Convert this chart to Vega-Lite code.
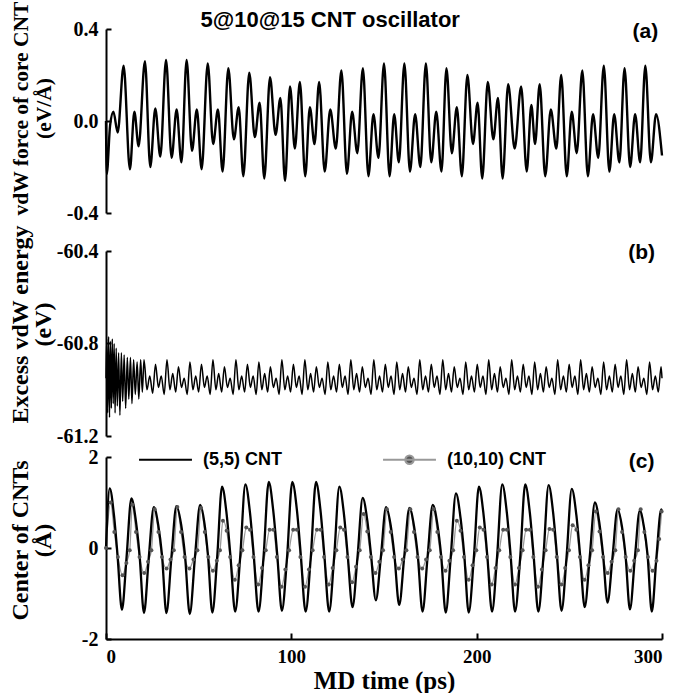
{
"$schema": "https://vega.github.io/schema/vega-lite/v6.json",
"background": "white",
"padding": {"left": 8, "top": 0, "right": 0, "bottom": 0},
"bounds": "flush",
"spacing": 38,
"config": {
  "view": {"stroke": null},
  "axis": {"grid": false, "domainColor": "#000", "domainWidth": 2, "tickColor": "#000", "tickWidth": 2, "tickSize": -5,
           "labelFont": "Liberation Serif", "labelFontWeight": "bold", "labelFontSize": 20, "labelColor": "#000", "labelPadding": 13,
           "titleFont": "Liberation Serif", "titleFontWeight": "bold", "titleFontSize": 24, "titleColor": "#000"},
  "axisY": {"titleX": -74, "titleBaseline": "bottom", "titleLineHeight": 23}
},
"datasets": {
"force": [
{"t":0,"f":0},{"t":0.4,"f":-0.23},{"t":2.2,"f":-0.02},{"t":4.0,"f":0.04},{"t":6.3,"f":-0.05},{"t":9.5,"f":0.24},{"t":12.9,"f":-0.21},{"t":15.3,"f":0.04},{"t":17.6,"f":-0.11},{"t":21.0,"f":0.26},{"t":23.9,"f":-0.20},{"t":26.6,"f":0.055},{"t":29.3,"f":-0.155},{"t":32.4,"f":0.265},{"t":35.4,"f":-0.16},{"t":38.1,"f":0.05},{"t":40.7,"f":-0.18},{"t":43.5,"f":0.265},{"t":46.4,"f":-0.13},{"t":49.0,"f":0.05},{"t":51.6,"f":-0.21},{"t":54.9,"f":0.25},{"t":57.8,"f":-0.10},{"t":60.4,"f":0.05},{"t":62.9,"f":-0.22},{"t":66.0,"f":0.23},{"t":69.0,"f":-0.08},{"t":71.6,"f":0.06},{"t":74.1,"f":-0.24},{"t":77.3,"f":0.21},{"t":80.3,"f":-0.07},{"t":82.9,"f":0.08},{"t":85.4,"f":-0.25},{"t":88.5,"f":0.19},{"t":91.5,"f":-0.06},{"t":94.1,"f":0.10},{"t":96.6,"f":-0.26},{"t":99.3,"f":0.15},{"t":101.9,"f":-0.12},{"t":104.6,"f":0.17},{"t":107.5,"f":-0.24},{"t":110.0,"f":0.06},{"t":112.5,"f":-0.10},{"t":115.0,"f":0.17},{"t":118.0,"f":-0.22},{"t":121.0,"f":0.05},{"t":124.0,"f":-0.12},{"t":127.0,"f":0.22},{"t":130.0,"f":-0.23},{"t":132.8,"f":0.04},{"t":135.6,"f":-0.14},{"t":138.6,"f":0.23},{"t":141.6,"f":-0.24},{"t":144.3,"f":0.03},{"t":147.0,"f":-0.16},{"t":150.0,"f":0.25},{"t":153.0,"f":-0.24},{"t":155.5,"f":0.03},{"t":158.0,"f":-0.18},{"t":161.0,"f":0.25},{"t":164.0,"f":-0.22},{"t":166.8,"f":0.03},{"t":169.6,"f":-0.20},{"t":172.6,"f":0.25},{"t":175.5,"f":-0.18},{"t":178.2,"f":0.04},{"t":181.0,"f":-0.22},{"t":183.7,"f":0.23},{"t":186.6,"f":-0.14},{"t":189.3,"f":0.06},{"t":192.0,"f":-0.24},{"t":195.0,"f":0.20},{"t":198.0,"f":-0.10},{"t":200.5,"f":0.08},{"t":203.0,"f":-0.25},{"t":206.0,"f":0.17},{"t":209.0,"f":-0.08},{"t":211.5,"f":0.10},{"t":214.0,"f":-0.25},{"t":217.0,"f":0.16},{"t":220.5,"f":-0.12},{"t":224.0,"f":0.15},{"t":227.0,"f":-0.22},{"t":229.5,"f":0.07},{"t":231.5,"f":-0.10},{"t":234.0,"f":0.16},{"t":237.0,"f":-0.24},{"t":240.0,"f":0.05},{"t":243.0,"f":-0.12},{"t":245.6,"f":0.20},{"t":248.6,"f":-0.24},{"t":251.3,"f":0.04},{"t":254.0,"f":-0.14},{"t":257.0,"f":0.22},{"t":260.0,"f":-0.24},{"t":262.8,"f":0.03},{"t":265.6,"f":-0.16},{"t":268.6,"f":0.24},{"t":271.6,"f":-0.22},{"t":274.2,"f":0.03},{"t":277.0,"f":-0.18},{"t":279.8,"f":0.23},{"t":282.8,"f":-0.20},{"t":285.5,"f":0.03},{"t":288.2,"f":-0.18},{"t":291.0,"f":0.24},{"t":294.0,"f":-0.18},{"t":296.8,"f":0.03},{"t":300,"f":-0.15}
],
"energy": [
{"t":0,"e":-60.95},{"t":0.4,"e":-60.78},{"t":0.9,"e":-61.1},{"t":1.4,"e":-60.77},{"t":1.9,"e":-61.12},{"t":2.4,"e":-60.79},{"t":2.9,"e":-61.08},{"t":3.4,"e":-60.78},{"t":3.9,"e":-61.06},{"t":4.4,"e":-60.8},{"t":4.9,"e":-61.1},{"t":5.5,"e":-60.82},{"t":6.1,"e":-61.07},{"t":6.8,"e":-60.84},{"t":7.5,"e":-61.11},{"t":8.3,"e":-60.84},{"t":9.0,"e":-61.05},{"t":9.8,"e":-60.85},{"t":10.6,"e":-61.08},{"t":11.5,"e":-60.86},{"t":12.3,"e":-61.04},{"t":13.2,"e":-60.86},{"t":14.0,"e":-61.06},{"t":14.9,"e":-60.87},{"t":15.8,"e":-61.02},{"t":16.8,"e":-60.88},{"t":17.7,"e":-61.04},{"t":18.7,"e":-60.87},{"t":19.6,"e":-61.01},
{"t":20.5,"e":-60.87},{"t":22.1,"e":-61.0},{"t":23.6,"e":-60.94},{"t":25.2,"e":-61.015},
{"t":26.7,"e":-60.89},{"t":28.3,"e":-60.99},{"t":29.8,"e":-60.94},{"t":31.4,"e":-61.02},
{"t":32.9,"e":-60.87},{"t":34.5,"e":-61.0},{"t":36.0,"e":-60.93},{"t":37.6,"e":-61.01},
{"t":39.1,"e":-60.9},{"t":40.7,"e":-60.99},{"t":42.2,"e":-60.95},{"t":43.8,"e":-61.02},
{"t":45.3,"e":-60.88},{"t":46.9,"e":-61.0},{"t":48.4,"e":-60.94},{"t":50.0,"e":-61.01},
{"t":51.5,"e":-60.89},{"t":53.1,"e":-60.99},{"t":54.6,"e":-60.94},{"t":56.2,"e":-61.02},
{"t":57.7,"e":-60.87},{"t":59.3,"e":-61.0},{"t":60.8,"e":-60.93},{"t":62.4,"e":-61.01},
{"t":63.9,"e":-60.9},{"t":65.5,"e":-60.99},{"t":67.0,"e":-60.95},{"t":68.6,"e":-61.02},
{"t":70.1,"e":-60.87},{"t":71.7,"e":-61.0},{"t":73.2,"e":-60.94},{"t":74.8,"e":-61.01},
{"t":76.3,"e":-60.89},{"t":77.9,"e":-60.99},{"t":79.4,"e":-60.94},{"t":81.0,"e":-61.02},
{"t":82.5,"e":-60.88},{"t":84.1,"e":-61.0},{"t":85.6,"e":-60.93},{"t":87.2,"e":-61.01},
{"t":88.7,"e":-60.9},{"t":90.3,"e":-60.99},{"t":91.8,"e":-60.95},{"t":93.4,"e":-61.02},
{"t":94.9,"e":-60.87},{"t":96.5,"e":-61.0},{"t":98.0,"e":-60.94},{"t":99.6,"e":-61.01},
{"t":101.1,"e":-60.89},{"t":102.7,"e":-60.99},{"t":104.2,"e":-60.94},{"t":105.8,"e":-61.02},
{"t":107.3,"e":-60.87},{"t":108.9,"e":-61.0},{"t":110.4,"e":-60.93},{"t":112.0,"e":-61.01},
{"t":113.5,"e":-60.9},{"t":115.1,"e":-60.99},{"t":116.6,"e":-60.95},{"t":118.2,"e":-61.02},
{"t":119.7,"e":-60.88},{"t":121.3,"e":-61.0},{"t":122.8,"e":-60.94},{"t":124.4,"e":-61.01},
{"t":125.9,"e":-60.89},{"t":127.5,"e":-60.99},{"t":129.0,"e":-60.94},{"t":130.6,"e":-61.02},
{"t":132.1,"e":-60.87},{"t":133.7,"e":-61.0},{"t":135.2,"e":-60.93},{"t":136.8,"e":-61.01},
{"t":138.3,"e":-60.9},{"t":139.9,"e":-60.99},{"t":141.4,"e":-60.95},{"t":143.0,"e":-61.02},
{"t":144.5,"e":-60.87},{"t":146.1,"e":-61.0},{"t":147.6,"e":-60.94},{"t":149.2,"e":-61.01},
{"t":150.7,"e":-60.89},{"t":152.3,"e":-60.99},{"t":153.8,"e":-60.94},{"t":155.4,"e":-61.02},
{"t":156.9,"e":-60.88},{"t":158.5,"e":-61.0},{"t":160.0,"e":-60.93},{"t":161.6,"e":-61.01},
{"t":163.1,"e":-60.9},{"t":164.7,"e":-60.99},{"t":166.2,"e":-60.95},{"t":167.8,"e":-61.02},
{"t":169.3,"e":-60.87},{"t":170.9,"e":-61.0},{"t":172.4,"e":-60.94},{"t":174.0,"e":-61.01},
{"t":175.5,"e":-60.89},{"t":177.1,"e":-60.99},{"t":178.6,"e":-60.94},{"t":180.2,"e":-61.02},
{"t":181.7,"e":-60.87},{"t":183.3,"e":-61.0},{"t":184.8,"e":-60.93},{"t":186.4,"e":-61.01},
{"t":187.9,"e":-60.9},{"t":189.5,"e":-60.99},{"t":191.0,"e":-60.95},{"t":192.6,"e":-61.02},
{"t":194.1,"e":-60.88},{"t":195.7,"e":-61.0},{"t":197.2,"e":-60.94},{"t":198.8,"e":-61.01},
{"t":200.3,"e":-60.89},{"t":201.9,"e":-60.99},{"t":203.4,"e":-60.94},{"t":205.0,"e":-61.02},
{"t":206.5,"e":-60.87},{"t":208.1,"e":-61.0},{"t":209.6,"e":-60.93},{"t":211.2,"e":-61.01},
{"t":212.7,"e":-60.9},{"t":214.3,"e":-60.99},{"t":215.8,"e":-60.95},{"t":217.4,"e":-61.02},
{"t":218.9,"e":-60.87},{"t":220.5,"e":-61.0},{"t":222.0,"e":-60.94},{"t":223.6,"e":-61.01},
{"t":225.1,"e":-60.89},{"t":226.7,"e":-60.99},{"t":228.2,"e":-60.94},{"t":229.8,"e":-61.02},
{"t":231.3,"e":-60.88},{"t":232.9,"e":-61.0},{"t":234.4,"e":-60.93},{"t":236.0,"e":-61.01},
{"t":237.5,"e":-60.9},{"t":239.1,"e":-60.99},{"t":240.6,"e":-60.95},{"t":242.2,"e":-61.02},
{"t":243.7,"e":-60.87},{"t":245.3,"e":-61.0},{"t":246.8,"e":-60.94},{"t":248.4,"e":-61.01},
{"t":249.9,"e":-60.89},{"t":251.5,"e":-60.99},{"t":253.0,"e":-60.94},{"t":254.6,"e":-61.02},
{"t":256.1,"e":-60.87},{"t":257.7,"e":-61.0},{"t":259.2,"e":-60.93},{"t":260.8,"e":-61.01},
{"t":262.3,"e":-60.9},{"t":263.9,"e":-60.99},{"t":265.4,"e":-60.95},{"t":267.0,"e":-61.02},
{"t":268.5,"e":-60.88},{"t":270.1,"e":-61.0},{"t":271.6,"e":-60.94},{"t":273.2,"e":-61.01},
{"t":274.7,"e":-60.89},{"t":276.3,"e":-60.99},{"t":277.8,"e":-60.94},{"t":279.4,"e":-61.02},
{"t":280.9,"e":-60.87},{"t":282.5,"e":-61.0},{"t":284.0,"e":-60.93},{"t":285.6,"e":-61.01},
{"t":287.1,"e":-60.9},{"t":288.7,"e":-60.99},{"t":290.2,"e":-60.95},{"t":291.8,"e":-61.02},
{"t":293.3,"e":-60.88},{"t":294.9,"e":-61.0},{"t":296.4,"e":-60.94},{"t":298.0,"e":-61.01},
{"t":299.5,"e":-60.9},{"t":300,"e":-60.95}
],
"center": [
{"s":"(5,5) CNT","t":0,"v":0.0},{"s":"(5,5) CNT","t":2.0,"v":1.31},{"s":"(5,5) CNT","t":4.3,"v":0.72},{"s":"(5,5) CNT","t":6.2,"v":-0.15},{"s":"(5,5) CNT","t":8.6,"v":-1.36},{"s":"(5,5) CNT","t":11.1,"v":-0.2},
{"s":"(5,5) CNT","t":13.7,"v":1.09},{"s":"(5,5) CNT","t":16.1,"v":0.6},{"s":"(5,5) CNT","t":18.1,"v":-0.15},{"s":"(5,5) CNT","t":20.5,"v":-1.43},{"s":"(5,5) CNT","t":23.1,"v":-0.2},
{"s":"(5,5) CNT","t":25.8,"v":0.9},{"s":"(5,5) CNT","t":28.2,"v":0.5},{"s":"(5,5) CNT","t":30.2,"v":-0.15},{"s":"(5,5) CNT","t":32.6,"v":-1.43},{"s":"(5,5) CNT","t":35.3,"v":-0.2},
{"s":"(5,5) CNT","t":38.0,"v":0.92},{"s":"(5,5) CNT","t":40.6,"v":0.5},{"s":"(5,5) CNT","t":42.6,"v":-0.15},{"s":"(5,5) CNT","t":45.2,"v":-1.45},{"s":"(5,5) CNT","t":48.0,"v":-0.2},
{"s":"(5,5) CNT","t":50.8,"v":0.95},{"s":"(5,5) CNT","t":53.2,"v":0.52},{"s":"(5,5) CNT","t":55.0,"v":-0.15},{"s":"(5,5) CNT","t":57.4,"v":-1.42},{"s":"(5,5) CNT","t":60.0,"v":-0.2},
{"s":"(5,5) CNT","t":62.6,"v":1.35},{"s":"(5,5) CNT","t":65.1,"v":0.74},{"s":"(5,5) CNT","t":67.1,"v":-0.15},{"s":"(5,5) CNT","t":69.7,"v":-1.4},{"s":"(5,5) CNT","t":72.4,"v":-0.2},
{"s":"(5,5) CNT","t":75.2,"v":1.4},{"s":"(5,5) CNT","t":77.7,"v":0.77},{"s":"(5,5) CNT","t":79.7,"v":-0.15},{"s":"(5,5) CNT","t":82.3,"v":-1.4},{"s":"(5,5) CNT","t":85.0,"v":-0.2},
{"s":"(5,5) CNT","t":87.8,"v":1.45},{"s":"(5,5) CNT","t":90.3,"v":0.8},{"s":"(5,5) CNT","t":92.4,"v":-0.15},{"s":"(5,5) CNT","t":94.9,"v":-1.38},{"s":"(5,5) CNT","t":97.7,"v":-0.2},
{"s":"(5,5) CNT","t":100.5,"v":1.45},{"s":"(5,5) CNT","t":103.1,"v":0.8},{"s":"(5,5) CNT","t":105.1,"v":-0.15},{"s":"(5,5) CNT","t":107.7,"v":-1.4},{"s":"(5,5) CNT","t":110.5,"v":-0.2},
{"s":"(5,5) CNT","t":113.3,"v":1.45},{"s":"(5,5) CNT","t":115.8,"v":0.8},{"s":"(5,5) CNT","t":117.8,"v":-0.15},{"s":"(5,5) CNT","t":120.4,"v":-1.4},{"s":"(5,5) CNT","t":123.1,"v":-0.2},
{"s":"(5,5) CNT","t":125.9,"v":1.35},{"s":"(5,5) CNT","t":128.4,"v":0.74},{"s":"(5,5) CNT","t":130.4,"v":-0.15},{"s":"(5,5) CNT","t":133.0,"v":-1.3},{"s":"(5,5) CNT","t":135.7,"v":-0.2},
{"s":"(5,5) CNT","t":138.5,"v":1.1},{"s":"(5,5) CNT","t":141.0,"v":0.6},{"s":"(5,5) CNT","t":143.0,"v":-0.15},{"s":"(5,5) CNT","t":145.6,"v":-1.15},{"s":"(5,5) CNT","t":148.3,"v":-0.2},
{"s":"(5,5) CNT","t":151.1,"v":0.9},{"s":"(5,5) CNT","t":153.6,"v":0.5},{"s":"(5,5) CNT","t":155.6,"v":-0.15},{"s":"(5,5) CNT","t":158.2,"v":-1.25},{"s":"(5,5) CNT","t":160.9,"v":-0.2},
{"s":"(5,5) CNT","t":163.7,"v":0.88},{"s":"(5,5) CNT","t":166.2,"v":0.48},{"s":"(5,5) CNT","t":168.2,"v":-0.15},{"s":"(5,5) CNT","t":170.8,"v":-1.4},{"s":"(5,5) CNT","t":173.5,"v":-0.2},
{"s":"(5,5) CNT","t":176.3,"v":0.95},{"s":"(5,5) CNT","t":178.8,"v":0.52},{"s":"(5,5) CNT","t":180.8,"v":-0.15},{"s":"(5,5) CNT","t":183.3,"v":-1.42},{"s":"(5,5) CNT","t":186.0,"v":-0.2},
{"s":"(5,5) CNT","t":188.8,"v":1.2},{"s":"(5,5) CNT","t":191.3,"v":0.66},{"s":"(5,5) CNT","t":193.3,"v":-0.15},{"s":"(5,5) CNT","t":195.7,"v":-1.42},{"s":"(5,5) CNT","t":198.5,"v":-0.2},
{"s":"(5,5) CNT","t":201.2,"v":1.35},{"s":"(5,5) CNT","t":203.7,"v":0.74},{"s":"(5,5) CNT","t":205.7,"v":-0.15},{"s":"(5,5) CNT","t":208.3,"v":-1.4},{"s":"(5,5) CNT","t":211.0,"v":-0.2},
{"s":"(5,5) CNT","t":213.8,"v":1.4},{"s":"(5,5) CNT","t":216.3,"v":0.77},{"s":"(5,5) CNT","t":218.3,"v":-0.15},{"s":"(5,5) CNT","t":220.7,"v":-1.4},{"s":"(5,5) CNT","t":223.5,"v":-0.2},
{"s":"(5,5) CNT","t":226.2,"v":1.4},{"s":"(5,5) CNT","t":228.7,"v":0.77},{"s":"(5,5) CNT","t":230.7,"v":-0.15},{"s":"(5,5) CNT","t":233.3,"v":-1.4},{"s":"(5,5) CNT","t":236.0,"v":-0.2},
{"s":"(5,5) CNT","t":238.8,"v":1.38},{"s":"(5,5) CNT","t":241.3,"v":0.76},{"s":"(5,5) CNT","t":243.3,"v":-0.15},{"s":"(5,5) CNT","t":245.8,"v":-1.38},{"s":"(5,5) CNT","t":248.5,"v":-0.2},
{"s":"(5,5) CNT","t":251.3,"v":1.3},{"s":"(5,5) CNT","t":253.8,"v":0.72},{"s":"(5,5) CNT","t":255.8,"v":-0.15},{"s":"(5,5) CNT","t":258.3,"v":-1.3},{"s":"(5,5) CNT","t":261.0,"v":-0.2},
{"s":"(5,5) CNT","t":263.8,"v":1.0},{"s":"(5,5) CNT","t":266.2,"v":0.55},{"s":"(5,5) CNT","t":268.2,"v":-0.15},{"s":"(5,5) CNT","t":270.6,"v":-1.2},{"s":"(5,5) CNT","t":273.3,"v":-0.2},
{"s":"(5,5) CNT","t":276.0,"v":0.85},{"s":"(5,5) CNT","t":278.4,"v":0.47},{"s":"(5,5) CNT","t":280.3,"v":-0.15},{"s":"(5,5) CNT","t":282.7,"v":-1.35},{"s":"(5,5) CNT","t":285.4,"v":-0.2},
{"s":"(5,5) CNT","t":288.0,"v":0.82},{"s":"(5,5) CNT","t":290.3,"v":0.45},{"s":"(5,5) CNT","t":292.2,"v":-0.15},{"s":"(5,5) CNT","t":294.5,"v":-1.4},{"s":"(5,5) CNT","t":297.0,"v":-0.2},
{"s":"(5,5) CNT","t":299.6,"v":0.85},{"s":"(5,5) CNT","t":300,"v":0.8},
{"s":"(10,10) CNT","t":0,"v":0.0},{"s":"(10,10) CNT","t":2.5,"v":1.0},{"s":"(10,10) CNT","t":4.5,"v":0.35},{"s":"(10,10) CNT","t":6.4,"v":-0.2},{"s":"(10,10) CNT","t":8.9,"v":-0.6},{"s":"(10,10) CNT","t":11.0,"v":-0.33},{"s":"(10,10) CNT","t":12.8,"v":-0.05},
{"s":"(10,10) CNT","t":14.2,"v":0.95},{"s":"(10,10) CNT","t":16.2,"v":0.35},{"s":"(10,10) CNT","t":18.1,"v":-0.2},{"s":"(10,10) CNT","t":20.6,"v":-0.55},{"s":"(10,10) CNT","t":22.7,"v":-0.3},{"s":"(10,10) CNT","t":24.5,"v":-0.05},
{"s":"(10,10) CNT","t":26.3,"v":0.85},{"s":"(10,10) CNT","t":28.3,"v":0.35},{"s":"(10,10) CNT","t":30.2,"v":-0.2},{"s":"(10,10) CNT","t":32.7,"v":-0.45},{"s":"(10,10) CNT","t":34.8,"v":-0.25},{"s":"(10,10) CNT","t":36.6,"v":-0.05},
{"s":"(10,10) CNT","t":38.5,"v":0.9},{"s":"(10,10) CNT","t":40.5,"v":0.35},{"s":"(10,10) CNT","t":42.4,"v":-0.2},{"s":"(10,10) CNT","t":45.0,"v":-0.45},{"s":"(10,10) CNT","t":47.2,"v":-0.25},{"s":"(10,10) CNT","t":49.3,"v":-0.05},
{"s":"(10,10) CNT","t":51.3,"v":0.88},{"s":"(10,10) CNT","t":53.3,"v":0.35},{"s":"(10,10) CNT","t":55.2,"v":-0.2},{"s":"(10,10) CNT","t":57.7,"v":-0.5},{"s":"(10,10) CNT","t":59.8,"v":-0.28},{"s":"(10,10) CNT","t":61.5,"v":-0.05},
{"s":"(10,10) CNT","t":63.1,"v":0.6},{"s":"(10,10) CNT","t":65.1,"v":0.38},{"s":"(10,10) CNT","t":67.0,"v":-0.2},{"s":"(10,10) CNT","t":69.5,"v":-0.7},{"s":"(10,10) CNT","t":71.6,"v":-0.38},{"s":"(10,10) CNT","t":73.6,"v":-0.05},
{"s":"(10,10) CNT","t":75.7,"v":0.45},{"s":"(10,10) CNT","t":77.7,"v":0.4},{"s":"(10,10) CNT","t":79.6,"v":-0.2},{"s":"(10,10) CNT","t":82.1,"v":-0.8},{"s":"(10,10) CNT","t":84.2,"v":-0.44},{"s":"(10,10) CNT","t":86.2,"v":-0.05},
{"s":"(10,10) CNT","t":88.3,"v":0.4},{"s":"(10,10) CNT","t":90.3,"v":0.4},{"s":"(10,10) CNT","t":92.2,"v":-0.2},{"s":"(10,10) CNT","t":94.7,"v":-0.85},{"s":"(10,10) CNT","t":96.8,"v":-0.47},{"s":"(10,10) CNT","t":98.8,"v":-0.05},
{"s":"(10,10) CNT","t":101.0,"v":0.4},{"s":"(10,10) CNT","t":103.0,"v":0.4},{"s":"(10,10) CNT","t":104.9,"v":-0.2},{"s":"(10,10) CNT","t":107.4,"v":-0.85},{"s":"(10,10) CNT","t":109.5,"v":-0.47},{"s":"(10,10) CNT","t":111.5,"v":-0.05},
{"s":"(10,10) CNT","t":113.8,"v":0.4},{"s":"(10,10) CNT","t":115.8,"v":0.4},{"s":"(10,10) CNT","t":117.7,"v":-0.2},{"s":"(10,10) CNT","t":120.2,"v":-0.8},{"s":"(10,10) CNT","t":122.3,"v":-0.44},{"s":"(10,10) CNT","t":124.3,"v":-0.05},
{"s":"(10,10) CNT","t":126.4,"v":0.45},{"s":"(10,10) CNT","t":128.4,"v":0.4},{"s":"(10,10) CNT","t":130.3,"v":-0.2},{"s":"(10,10) CNT","t":132.8,"v":-0.75},{"s":"(10,10) CNT","t":134.9,"v":-0.41},{"s":"(10,10) CNT","t":136.9,"v":-0.05},
{"s":"(10,10) CNT","t":139.0,"v":0.75},{"s":"(10,10) CNT","t":141.0,"v":0.36},{"s":"(10,10) CNT","t":142.9,"v":-0.2},{"s":"(10,10) CNT","t":145.4,"v":-0.55},{"s":"(10,10) CNT","t":147.5,"v":-0.3},{"s":"(10,10) CNT","t":149.5,"v":-0.05},
{"s":"(10,10) CNT","t":151.6,"v":0.85},{"s":"(10,10) CNT","t":153.6,"v":0.35},{"s":"(10,10) CNT","t":155.5,"v":-0.2},{"s":"(10,10) CNT","t":158.0,"v":-0.45},{"s":"(10,10) CNT","t":160.1,"v":-0.25},{"s":"(10,10) CNT","t":162.1,"v":-0.05},
{"s":"(10,10) CNT","t":164.2,"v":0.85},{"s":"(10,10) CNT","t":166.2,"v":0.35},{"s":"(10,10) CNT","t":168.1,"v":-0.2},{"s":"(10,10) CNT","t":170.6,"v":-0.45},{"s":"(10,10) CNT","t":172.7,"v":-0.25},{"s":"(10,10) CNT","t":174.7,"v":-0.05},
{"s":"(10,10) CNT","t":176.8,"v":0.85},{"s":"(10,10) CNT","t":178.8,"v":0.35},{"s":"(10,10) CNT","t":180.7,"v":-0.2},{"s":"(10,10) CNT","t":183.2,"v":-0.5},{"s":"(10,10) CNT","t":185.3,"v":-0.28},{"s":"(10,10) CNT","t":187.3,"v":-0.05},
{"s":"(10,10) CNT","t":189.3,"v":0.6},{"s":"(10,10) CNT","t":191.3,"v":0.38},{"s":"(10,10) CNT","t":193.2,"v":-0.2},{"s":"(10,10) CNT","t":195.7,"v":-0.7},{"s":"(10,10) CNT","t":197.8,"v":-0.38},{"s":"(10,10) CNT","t":199.8,"v":-0.05},
{"s":"(10,10) CNT","t":201.7,"v":0.45},{"s":"(10,10) CNT","t":203.7,"v":0.4},{"s":"(10,10) CNT","t":205.6,"v":-0.2},{"s":"(10,10) CNT","t":208.1,"v":-0.8},{"s":"(10,10) CNT","t":210.2,"v":-0.44},{"s":"(10,10) CNT","t":212.2,"v":-0.05},
{"s":"(10,10) CNT","t":214.3,"v":0.4},{"s":"(10,10) CNT","t":216.3,"v":0.4},{"s":"(10,10) CNT","t":218.2,"v":-0.2},{"s":"(10,10) CNT","t":220.7,"v":-0.8},{"s":"(10,10) CNT","t":222.8,"v":-0.44},{"s":"(10,10) CNT","t":224.8,"v":-0.05},
{"s":"(10,10) CNT","t":226.7,"v":0.4},{"s":"(10,10) CNT","t":228.7,"v":0.4},{"s":"(10,10) CNT","t":230.6,"v":-0.2},{"s":"(10,10) CNT","t":233.1,"v":-0.85},{"s":"(10,10) CNT","t":235.2,"v":-0.47},{"s":"(10,10) CNT","t":237.2,"v":-0.05},
{"s":"(10,10) CNT","t":239.3,"v":0.42},{"s":"(10,10) CNT","t":241.3,"v":0.4},{"s":"(10,10) CNT","t":243.2,"v":-0.2},{"s":"(10,10) CNT","t":245.7,"v":-0.8},{"s":"(10,10) CNT","t":247.8,"v":-0.44},{"s":"(10,10) CNT","t":249.8,"v":-0.05},
{"s":"(10,10) CNT","t":251.8,"v":0.5},{"s":"(10,10) CNT","t":253.8,"v":0.4},{"s":"(10,10) CNT","t":255.7,"v":-0.2},{"s":"(10,10) CNT","t":258.2,"v":-0.7},{"s":"(10,10) CNT","t":260.3,"v":-0.38},{"s":"(10,10) CNT","t":262.3,"v":-0.05},
{"s":"(10,10) CNT","t":264.3,"v":0.8},{"s":"(10,10) CNT","t":266.3,"v":0.36},{"s":"(10,10) CNT","t":268.2,"v":-0.2},{"s":"(10,10) CNT","t":270.7,"v":-0.55},{"s":"(10,10) CNT","t":272.8,"v":-0.3},{"s":"(10,10) CNT","t":274.8,"v":-0.05},
{"s":"(10,10) CNT","t":276.5,"v":0.85},{"s":"(10,10) CNT","t":278.5,"v":0.35},{"s":"(10,10) CNT","t":280.4,"v":-0.2},{"s":"(10,10) CNT","t":282.9,"v":-0.5},{"s":"(10,10) CNT","t":285.0,"v":-0.28},{"s":"(10,10) CNT","t":287.0,"v":-0.05},
{"s":"(10,10) CNT","t":288.5,"v":0.85},{"s":"(10,10) CNT","t":290.5,"v":0.35},{"s":"(10,10) CNT","t":292.4,"v":-0.2},{"s":"(10,10) CNT","t":294.9,"v":-0.5},{"s":"(10,10) CNT","t":297.0,"v":-0.28},{"s":"(10,10) CNT","t":298.5,"v":0.2},{"s":"(10,10) CNT","t":299.8,"v":0.8}
]
},
"vconcat": [
{
  "width": 556, "height": 184,
  "layer": [
    {"data": {"name": "force"},
     "mark": {"type": "line", "interpolate": "monotone", "color": "#000", "strokeWidth": 2.4},
     "encoding": {
       "x": {"field": "t", "type": "quantitative", "scale": {"domain": [0, 300], "nice": false, "zero": false}, "axis": null},
       "y": {"field": "f", "type": "quantitative", "scale": {"domain": [-0.4, 0.4], "nice": false, "zero": false},
             "axis": {"values": [-0.4, 0, 0.4], "title": ["vdW force of core CNT", "(eV/Å)"], "titleY": 79, "titleFontSize": 21.5,
                      "labelExpr": "datum.value < 0 ? '-' + format(-datum.value, '.1f') : format(datum.value, '.1f')"}}
     }},
    {"data": {"values": [{"t": 121, "v": 0.438, "label": "5@10@15 CNT oscillator"}]},
     "mark": {"type": "text", "font": "Liberation Sans", "fontWeight": "bold", "fontSize": 22, "color": "#000", "baseline": "middle"},
     "encoding": {"x": {"field": "t", "type": "quantitative"}, "y": {"field": "v", "type": "quantitative"}, "text": {"field": "label"}}},
    {"data": {"values": [{"t": 291, "v": 0.385, "label": "(a)"}]},
     "mark": {"type": "text", "font": "Liberation Sans", "fontWeight": "bold", "fontSize": 21, "color": "#000", "baseline": "middle"},
     "encoding": {"x": {"field": "t", "type": "quantitative"}, "y": {"field": "v", "type": "quantitative"}, "text": {"field": "label"}}}
  ]
},
{
  "bounds": "flush",
  "spacing": 21,
  "vconcat": [
    {
      "width": 556, "height": 185,
      "layer": [
        {"data": {"name": "energy"},
         "mark": {"type": "line", "interpolate": "monotone", "color": "#000", "strokeWidth": 1.5},
         "encoding": {
           "x": {"field": "t", "type": "quantitative", "scale": {"domain": [0, 300], "nice": false, "zero": false}, "axis": null},
           "y": {"field": "e", "type": "quantitative", "scale": {"domain": [-61.2, -60.4], "nice": false, "zero": false},
                 "axis": {"values": [-61.2, -60.8, -60.4], "title": ["Excess vdW energy", "(eV)"], "titleY": 73,
                          "labelExpr": "'-' + format(-datum.value, '.1f')"}}
         }},
        {"data": {"values": [{"t": 289, "v": -60.41, "label": "(b)"}]},
         "mark": {"type": "text", "font": "Liberation Sans", "fontWeight": "bold", "fontSize": 21, "color": "#000", "baseline": "middle"},
         "encoding": {"x": {"field": "t", "type": "quantitative"}, "y": {"field": "v", "type": "quantitative"}, "text": {"field": "label"}}}
      ]
    },
    {
      "width": 556, "height": 182,
      "layer": [
        {"data": {"name": "center"},
         "transform": [{"filter": "datum.s === '(10,10) CNT'"}],
         "mark": {"type": "line", "interpolate": "monotone", "strokeWidth": 1.3},
         "encoding": {
           "x": {"field": "t", "type": "quantitative", "scale": {"domain": [0, 300], "nice": false, "zero": false},
                 "axis": {"values": [0, 100, 200, 300], "title": "MD time (ps)", "titleFontSize": 25, "labelFontSize": 19, "labelPadding": 14, "titlePadding": 2, "tickSize": -6}},
           "y": {"field": "v", "type": "quantitative", "scale": {"domain": [-2, 2], "nice": false, "zero": false},
                 "axis": {"values": [-2, 0, 2], "title": ["Center of CNTs", "(Å)"], "titleY": 83,
                          "labelExpr": "datum.value < 0 ? '-' + format(-datum.value, 'd') : format(datum.value, 'd')"}},
           "color": {"field": "s", "type": "nominal", "scale": {"domain": ["(5,5) CNT", "(10,10) CNT"], "range": ["#000000", "#999999"]},
                     "legend": {"orient": "none", "legendX": 32, "legendY": 403, "direction": "horizontal", "title": null, "padding": 0,
                                "symbolSize": 2800, "symbolStrokeWidth": 2, "symbolType": "stroke", "columnPadding": 96, "labelOffset": 10,
                                "labelFont": "Liberation Sans", "labelFontWeight": "bold", "labelFontSize": 18, "labelColor": "#000",
                                "encode": {"symbols": {"update": {"shape": {"signal": "datum.value === '(10,10) CNT' ? 'M-1,0H1M0.16,0A0.16,0.16,0,1,1,-0.16,0A0.16,0.16,0,1,1,0.16,0' : 'M-1,0H1'"}, "fill": {"value": "#555555"}}}}}}
         }},
        {"data": {"name": "center"},
         "transform": [{"filter": "datum.s === '(5,5) CNT'"}],
         "mark": {"type": "line", "interpolate": "monotone", "strokeWidth": 2.3},
         "encoding": {
           "x": {"field": "t", "type": "quantitative"},
           "y": {"field": "v", "type": "quantitative"},
           "color": {"field": "s", "type": "nominal", "scale": {"domain": ["(5,5) CNT", "(10,10) CNT"], "range": ["#000000", "#999999"]},
                     "legend": {"orient": "none", "legendX": 32, "legendY": 403, "direction": "horizontal", "title": null, "padding": 0,
                                "symbolSize": 2800, "symbolStrokeWidth": 2, "symbolType": "stroke", "columnPadding": 96, "labelOffset": 10,
                                "labelFont": "Liberation Sans", "labelFontWeight": "bold", "labelFontSize": 18, "labelColor": "#000",
                                "encode": {"symbols": {"update": {"shape": {"signal": "datum.value === '(10,10) CNT' ? 'M-1,0H1M0.16,0A0.16,0.16,0,1,1,-0.16,0A0.16,0.16,0,1,1,0.16,0' : 'M-1,0H1'"}, "fill": {"value": "#555555"}}}}}}
         }},
        {"data": {"name": "center"},
         "transform": [{"filter": "datum.s === '(10,10) CNT'"}],
         "mark": {"type": "point", "filled": true, "size": 16, "color": "#555555", "opacity": 1},
         "encoding": {"x": {"field": "t", "type": "quantitative"}, "y": {"field": "v", "type": "quantitative"}}},
        {"data": {"values": [{"t": 289, "v": 1.9, "label": "(c)"}]},
         "mark": {"type": "text", "font": "Liberation Sans", "fontWeight": "bold", "fontSize": 21, "color": "#000", "baseline": "middle"},
         "encoding": {"x": {"field": "t", "type": "quantitative"}, "y": {"field": "v", "type": "quantitative"}, "text": {"field": "label"}}}
      ]
    }
  ]
}
]
}
